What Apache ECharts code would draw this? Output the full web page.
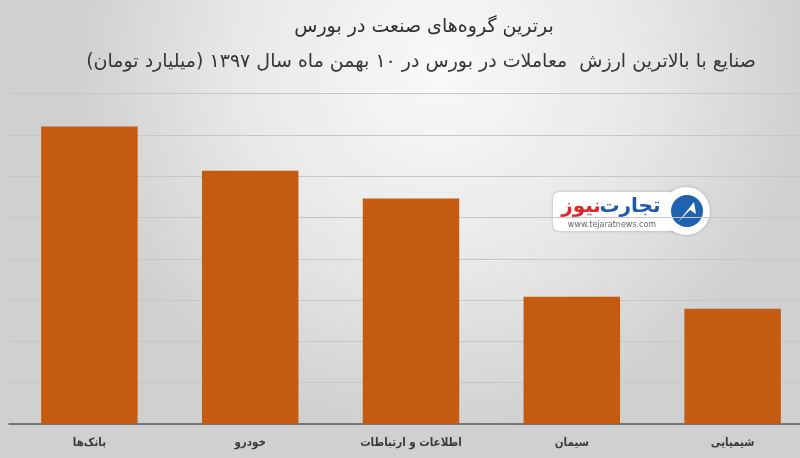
<!DOCTYPE html>
<html dir="rtl">
<head>
<meta charset="utf-8">
<script src="https://cdn.jsdelivr.net/npm/echarts@6/dist/echarts.min.js"></script>
<style>
html,body{margin:0;padding:0;}
#c{position:absolute;left:0;top:0;width:800px;height:458px;}
</style>
</head>
<body>
<div id="c"></div>
<script>
var titleText = 'برترین گروه‌های صنعت در بورس';
var subtitleText = 'صنایع با بالاترین ارزش  معاملات در بورس در ۱۰ بهمن ماه سال ۱۳۹۷ (میلیارد تومان)';
var categories = ['بانک‌ها', 'خودرو', 'اطلاعات و ارتباطات', 'سیمان', 'شیمیایی'];
var values = [7.2, 6.13, 5.46, 3.08, 2.79];

var FONT = 'DejaVu Sans';
var chart = echarts.init(document.getElementById('c'), null, {renderer: 'canvas'});
chart.setOption({
  animation: false,
  backgroundColor: {
    type: 'radial', x: 0.55, y: 0.15, r: 0.8,
    colorStops: [{offset: 0, color: '#f9f9f9'}, {offset: 0.55, color: '#e8e8e8'}, {offset: 1, color: '#d0d0d0'}]
  },
  textStyle: {fontFamily: FONT},
  grid: {left: 9, top: 93.5, right: -13, bottom: 34, containLabel: false, outerBoundsMode: 'none'},
  xAxis: {
    type: 'category',
    data: categories,
    axisLine: {lineStyle: {color: '#5a5a5a', width: 1.5}},
    axisTick: {show: false},
    axisLabel: {interval: 0, color: '#3a3a3a', fontSize: 11.5, fontWeight: 'bold', margin: 13, fontFamily: '"DejaVu Sans Condensed", "DejaVu Sans"'}
  },
  yAxis: {
    type: 'value', min: 0, max: 8, interval: 1,
    axisLabel: {show: false}, axisLine: {show: false}, axisTick: {show: false},
    splitLine: {lineStyle: {color: '#c6c6c6', width: 1}}
  },
  series: [{
    type: 'bar',
    data: values,
    barCategoryGap: '40%',
    itemStyle: {color: '#c55a11'}
  }],
  graphic: [
    {type: 'text', position: [424, 27], style: {text: titleText, textAlign: 'center', textVerticalAlign: 'middle', font: '19px "DejaVu Sans"', fill: '#2e2e2e'}},
    {type: 'text', position: [421, 62], style: {text: subtitleText, textAlign: 'center', textVerticalAlign: 'middle', font: '19px "DejaVu Sans"', fill: '#363636'}},
    {type: 'group', position: [0, 0], children: [
      {type: 'rect', shape: {x: 553, y: 192, width: 140, height: 39, r: 6}, style: {fill: '#ffffff', shadowBlur: 3, shadowColor: 'rgba(0,0,0,0.25)'}},
      {type: 'circle', shape: {cx: 686, cy: 211, r: 24}, style: {fill: '#ffffff', shadowBlur: 3, shadowColor: 'rgba(0,0,0,0.25)'}},
      {type: 'rect', shape: {x: 650, y: 193, width: 30, height: 37}, style: {fill: '#ffffff'}},
      {type: 'circle', shape: {cx: 687, cy: 211, r: 16}, style: {fill: '#1f63b0'}},
      {type: 'polygon', shape: {points: [[678, 222], [694, 202], [696, 214], [690, 210]]}, style: {fill: '#ffffff'}},
      {type: 'text', position: [630, 207], style: {text: 'تجارت', textAlign: 'center', textVerticalAlign: 'middle', font: 'bold 20px "DejaVu Sans"', fill: '#1f5aa6'}},
      {type: 'text', position: [581, 207], style: {text: 'نیوز', textAlign: 'center', textVerticalAlign: 'middle', font: 'bold 20px "DejaVu Sans"', fill: '#e3262d'}},
      {type: 'text', position: [612, 225], style: {text: 'www.tejaratnews.com', textAlign: 'center', textVerticalAlign: 'middle', font: '8px "DejaVu Sans"', fill: '#666666'}}
    ]}
  ]
});
</script>
</body>
</html>
